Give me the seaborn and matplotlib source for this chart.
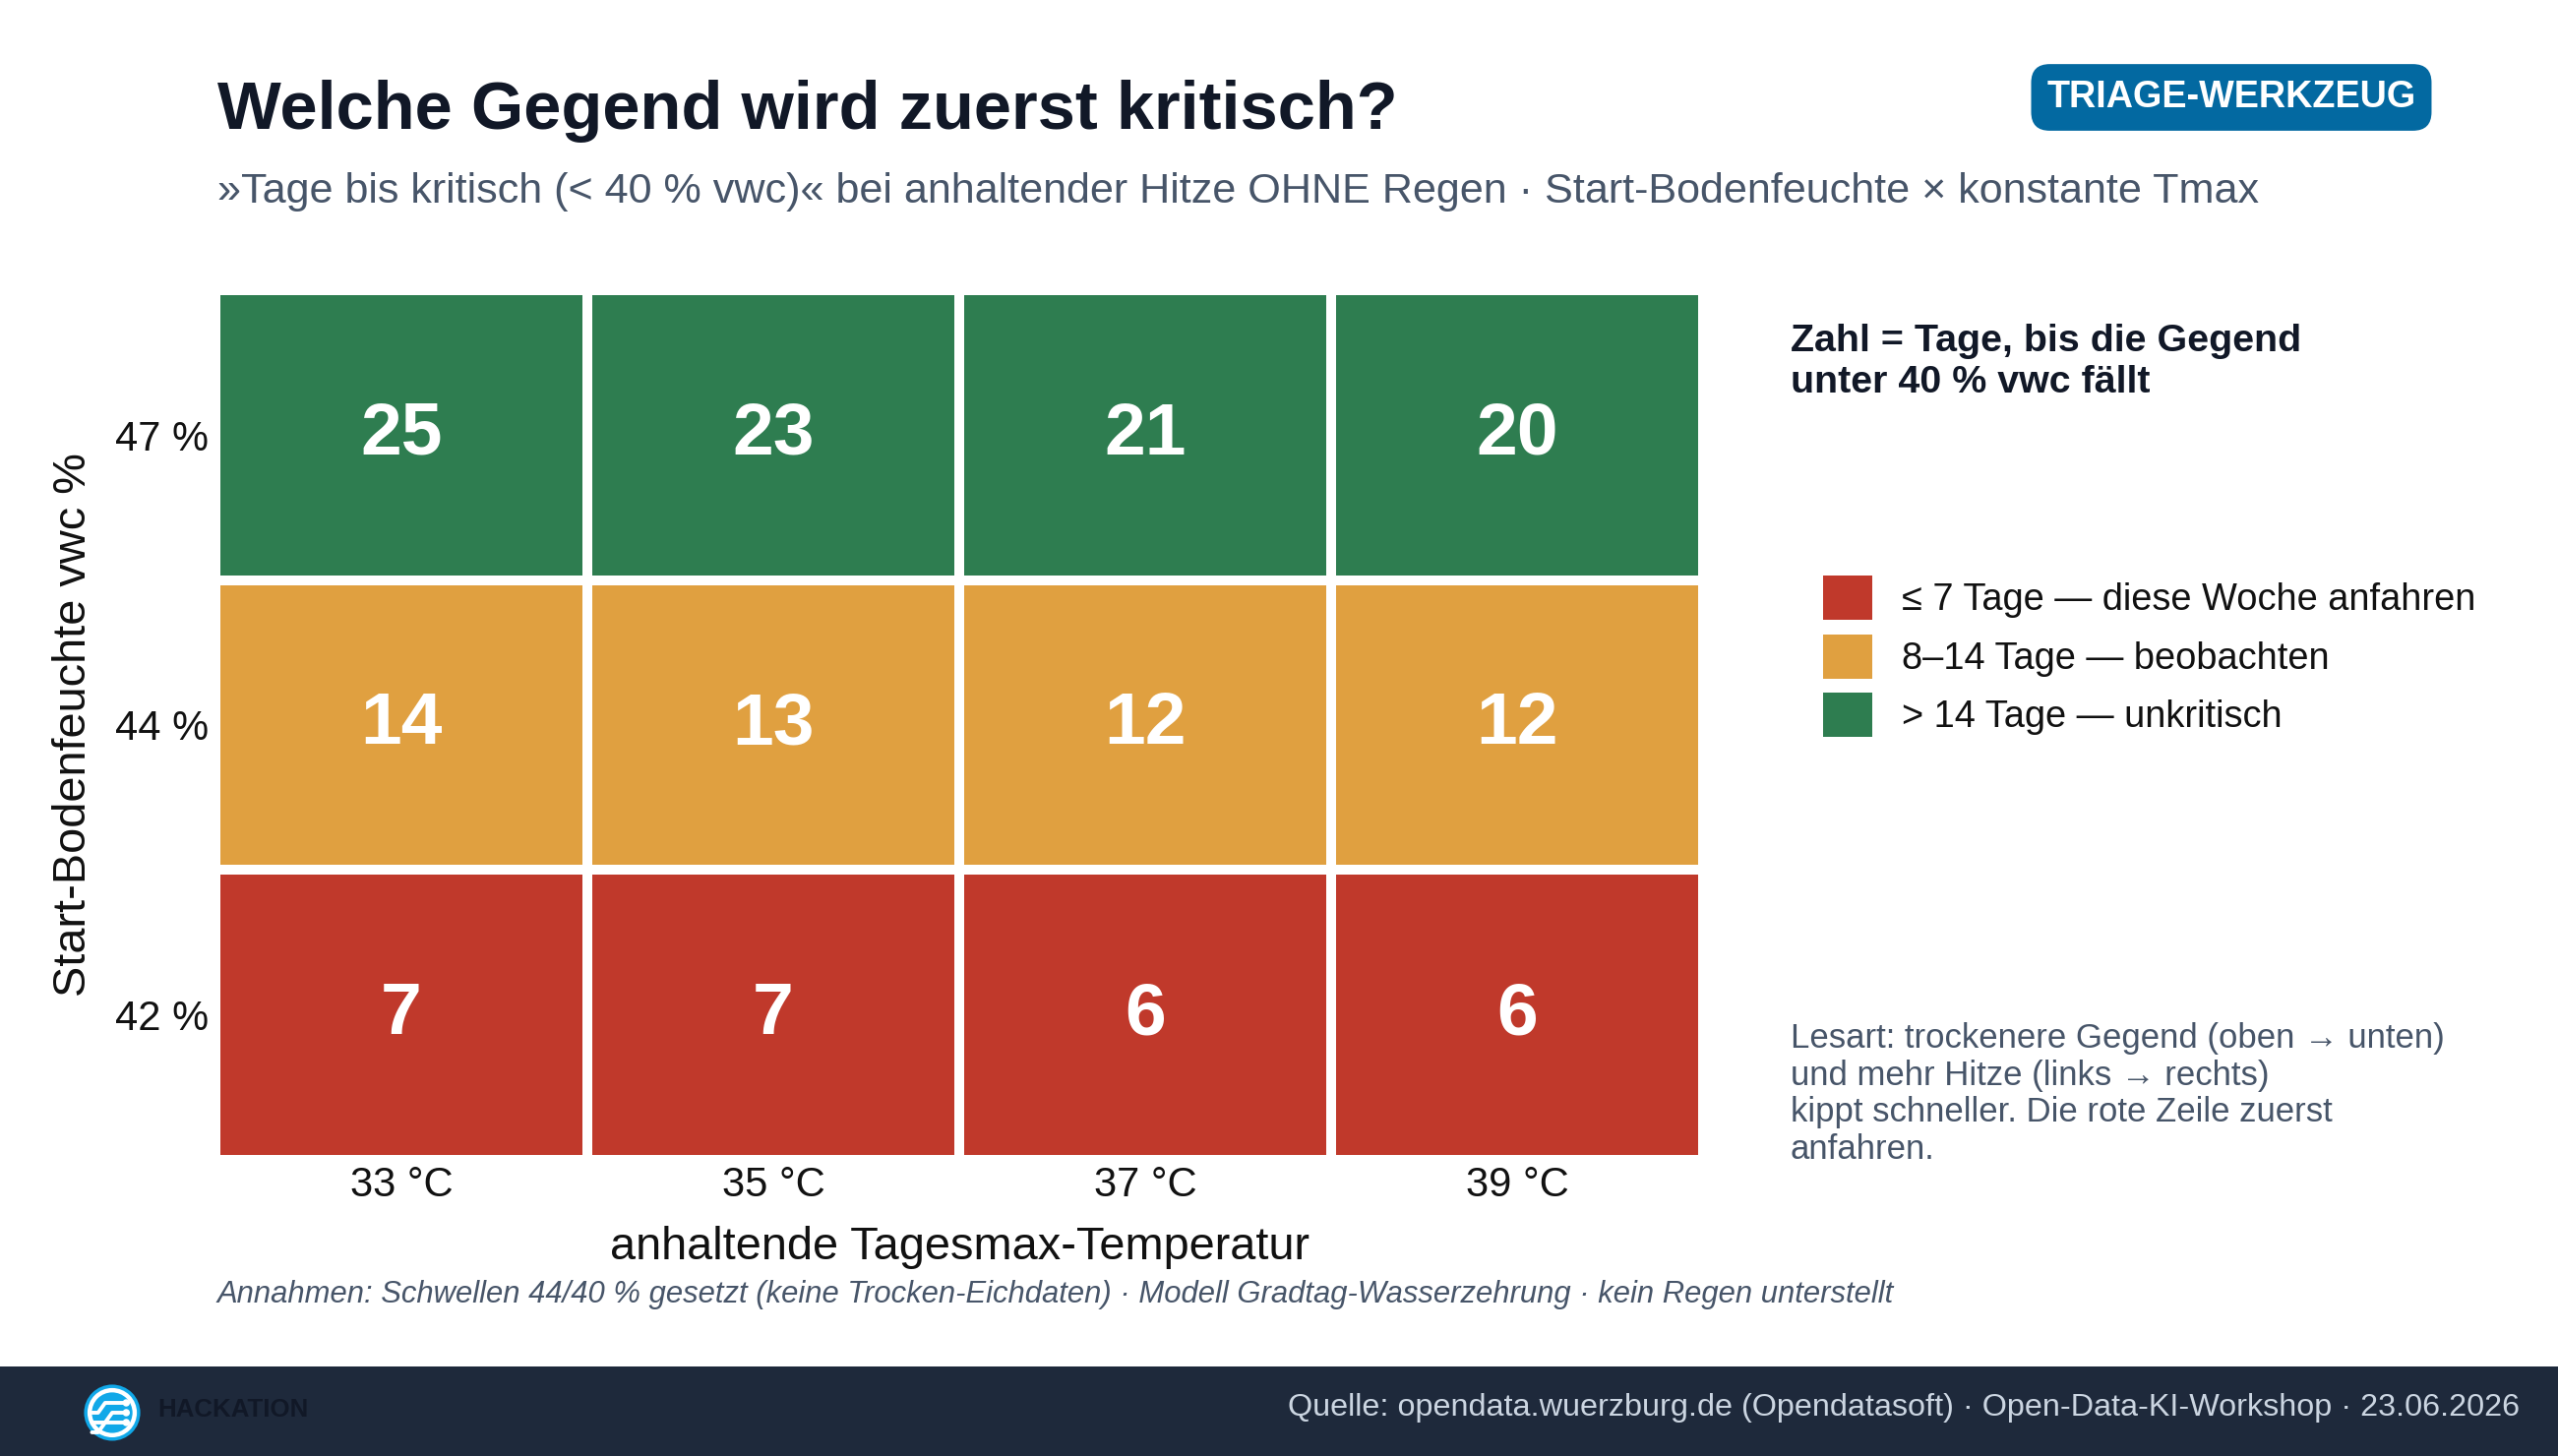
import matplotlib
matplotlib.use('Agg')
import matplotlib.pyplot as plt
import seaborn as sns
import pandas as pd
from matplotlib.colors import ListedColormap, BoundaryNorm
from matplotlib.patches import Rectangle, Circle

# Daten: Tage bis kritisch (< 40 % vwc)
moisture_labels = ['47 %', '44 %', '42 %']
temp_labels = ['33 °C', '35 °C', '37 °C', '39 °C']
days_47 = [25, 23, 21, 20]
days_44 = [14, 13, 12, 12]
days_42 = [7, 7, 6, 6]

class_colors = ['#c0392b', '#e0a040', '#2e7d50']
class_bounds = [0, 7.5, 14.5, 100]
class_labels = ['≤ 7 Tage — diese Woche anfahren',
                '8–14 Tage — beobachten',
                '> 14 Tage — unkritisch']

df = pd.DataFrame([days_47, days_44, days_42], index=moisture_labels, columns=temp_labels)

sns.set_theme(style='white')
plt.rcParams['font.family'] = ['Liberation Sans', 'DejaVu Sans']

fig = plt.figure(figsize=(13, 7.4), dpi=200)
fig.patch.set_facecolor('white')

# Heatmap
ax = fig.add_axes([219 / 2600, 1 - 1179 / 1480, 1512 / 2600, 884 / 1480])
sns.heatmap(df, ax=ax, cmap=ListedColormap(class_colors), norm=BoundaryNorm(class_bounds, 3),
            annot=True, fmt='d', annot_kws=dict(fontsize=27, fontweight='bold', color='white'),
            linewidths=3, linecolor='white', cbar=False)
ax.tick_params(axis='y', length=0, labelsize=15, colors='#111111', pad=2.5)
ax.tick_params(axis='x', length=0, labelsize=15, colors='#111111', pad=2.2)
ax.set_yticklabels(moisture_labels, rotation=0, va='center_baseline')
ax.set_xticklabels(temp_labels, rotation=0)
ax.set_xlabel('anhaltende Tagesmax-Temperatur', fontsize=16.9, color='#111111', va='center')
ax.set_ylabel('Start-Bodenfeuchte vwc %', fontsize=16.9, color='#111111', va='center')
ax.xaxis.set_label_coords(0.5, -0.101)
ax.yaxis.set_label_coords(-0.095, 0.5)

# Titel + Untertitel
fig.text(0.085, 0.9236, 'Welche Gegend wird zuerst kritisch?', fontsize=24.7, fontweight='bold',
         color='#111827', va='center', ha='left')
fig.text(0.085, 0.868, '»Tage bis kritisch (< 40 % vwc)« bei anhaltender Hitze OHNE Regen · '
         'Start-Bodenfeuchte × konstante Tmax', fontsize=15.54, color='#475569', va='center', ha='left')

# Badge
fig.text(0.8723, 0.9331, 'TRIAGE-WERKZEUG', fontsize=13.6, fontweight='bold', color='white',
         ha='center', va='center',
         bbox=dict(boxstyle='round,pad=0.42,rounding_size=0.5', fc='#0369a1', ec='none'))

# Legende rechts
fig.text(0.700, 0.7775, 'Zahl = Tage, bis die Gegend\nunter 40 % vwc fällt', fontsize=14.2,
         fontweight='bold', color='#111827', ha='left', va='top', linespacing=1.2)
row_y = [607, 667, 726]
for col, lab, ypx in zip(class_colors, class_labels, row_y):
    yc = 1 - ypx / 1480
    fig.add_artist(Rectangle((1853 / 2600, yc - 22.5 / 1480), 50 / 2600, 45 / 1480,
                             transform=fig.transFigure, fc=col, ec='none'))
    fig.text(1933 / 2600, yc - 3 / 1480, lab, fontsize=13.7, color='#111111', ha='left', va='center')

fig.text(0.700, 1 - 1039 / 1480, 'Lesart: trockenere Gegend (oben → unten)\n'
         'und mehr Hitze (links → rechts)\nkippt schneller. Die rote Zeile zuerst\nanfahren.',
         fontsize=12.5, color='#475569', ha='left', va='top', linespacing=1.18)

# Fußnote
fig.text(0.085, 0.111, 'Annahmen: Schwellen 44/40 % gesetzt (keine Trocken-Eichdaten) · '
         'Modell Gradtag-Wasserzehrung · kein Regen unterstellt',
         fontsize=11.17, style='italic', color='#475569', ha='left', va='center')

# Footer-Band
fig.add_artist(Rectangle((0, 0), 1, 0.0615, transform=fig.transFigure, fc='#1e293b', ec='none', zorder=0))
fig.text(0.985, 0.033, 'Quelle: opendata.wuerzburg.de (Opendatasoft) · Open-Data-KI-Workshop · 23.06.2026',
         fontsize=11.66, color='#cbd5e1', ha='right', va='center')

# Logo
lax = fig.add_axes([0.0323, 0.0095, 0.0231, 0.0405])
lax.set_xlim(-1.05, 1.05)
lax.set_ylim(-1.05, 1.05)
lax.axis('off')
lax.add_patch(Circle((0, 0), 1.0, fc='#11a8e8', ec='none'))
lax.add_patch(Circle((0, 0), 0.8, fc='none', ec='white', lw=1.6))
for yy, x0 in [(0.35, -0.25), (0.0, 0.0), (-0.35, -0.25)]:
    lax.plot([-0.72, x0 - 0.25, x0, 0.45], [yy - 0.35, yy - 0.35, yy, yy], color='white', lw=1.4,
             solid_capstyle='round')
    lax.add_patch(Circle((0.5, yy), 0.13, fc='white', ec='none'))
fig.text(160 / 2600, 0.0318, 'HACKATION', fontsize=9.3, fontweight='bold', color='#111827',
         ha='left', va='center')

fig.savefig('out.png', dpi=200)
